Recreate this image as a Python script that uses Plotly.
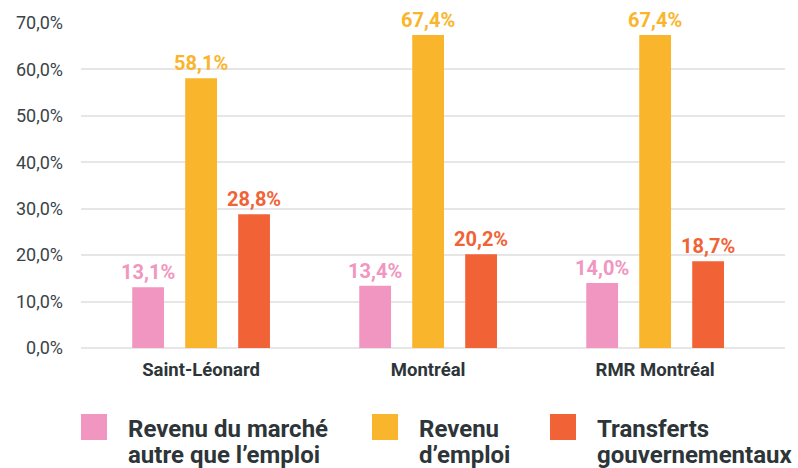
import plotly.graph_objects as go

categories = ["Saint-Léonard", "Montréal", "RMR Montréal"]
series_names = ["Revenu du marché<br>autre que l’emploi", "Revenu<br>d’emploi", "Transferts<br>gouvernementaux"]
revenu_marche = [13.1, 13.4, 14.0]
revenu_emploi = [58.1, 67.4, 67.4]
transferts = [28.8, 20.2, 18.7]
series_values = [revenu_marche, revenu_emploi, transferts]
colors = ["#F096C0", "#F9B52C", "#F26237"]
y_ticks = [0, 10, 20, 30, 40, 50, 60, 70]
y_tick_labels = [f"{v:.1f}".replace(".", ",") + "%" for v in y_ticks]

W, H = 798, 468
ML, MR, MT, MB = 81, 13, 23, 120
PW, PH = W - ML - MR, H - MT - MB

def px_x(p):
    return (p - ML) / PW

def px_y(p):
    return (H - MB - p) / PH

FONT = "Roboto"
DARK = "#2d3539"

fig = go.Figure()
for name, vals, col in zip(series_names, series_values, colors):
    fig.add_trace(go.Bar(
        x=categories, y=vals, name=name, marker_color=col, marker_line_width=0,
        texttemplate="%{y:.1f}%", textposition="outside", cliponaxis=False,
        constraintext="none",
        textfont=dict(color=col, size=20, family=FONT, weight=700),
        showlegend=False, hoverinfo="skip",
    ))

# custom legend (large square swatches, tight two-line labels)
sq_left = [81, 372, 550]
for i, (name, col) in enumerate(zip(series_names, colors)):
    x0 = sq_left[i]
    fig.add_shape(type="rect", xref="paper", yref="paper",
                  x0=px_x(x0), x1=px_x(x0 + 26), y0=px_y(440), y1=px_y(414),
                  fillcolor=col, line_width=0)
    for j, line in enumerate(name.split("<br>")):
        fig.add_annotation(xref="paper", yref="paper", x=px_x(x0 + 45), y=px_y(413 + 26 * j),
                           xanchor="left", yanchor="top", align="left", showarrow=False,
                           text=line, font=dict(family=FONT, size=24, color=DARK, weight=700))

fig.update_layout(
    width=W, height=H,
    margin=dict(l=ML, r=MR, t=MT, b=MB, pad=0),
    paper_bgcolor="white", plot_bgcolor="white",
    barmode="group", bargap=0.3, bargroupgap=0.4,
    separators=", ",
    font=dict(family=FONT, color=DARK),
    xaxis=dict(range=[-0.529, 2.572], showgrid=False, zeroline=False, showline=False,
               ticks="", ticklabelstandoff=8,
               tickfont=dict(family=FONT, size=18.5, color=DARK, weight=700)),
    yaxis=dict(range=[0, 70], tickvals=y_ticks, ticktext=y_tick_labels,
               showgrid=True, gridcolor="#e6e6e6", gridwidth=2,
               zeroline=True, zerolinecolor="#e6e6e6", zerolinewidth=2,
               showline=False, ticks="", ticklabelstandoff=17,
               tickfont=dict(family=FONT, size=18, color="#3a4347")),
)

fig.write_html("out.html", config={"displayModeBar": False},
               post_script="document.body.style.margin='0';")
